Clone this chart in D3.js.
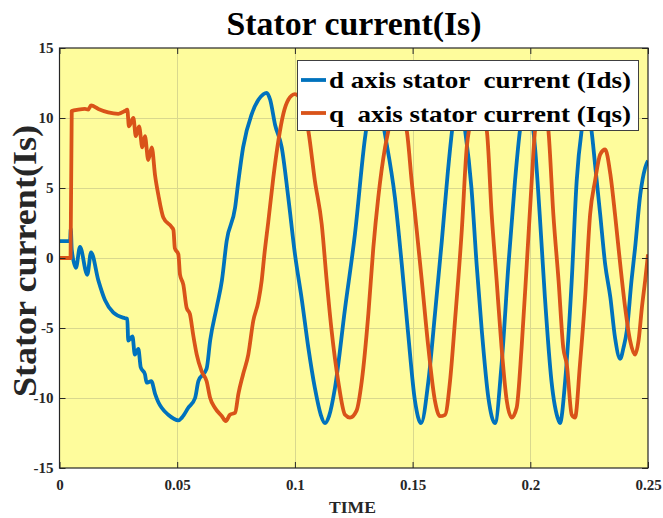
<!DOCTYPE html>
<html><head><meta charset="utf-8">
<script src="https://cdn.jsdelivr.net/npm/d3@7"></script>
<style>
html,body{margin:0;padding:0;background:#fff;}
text{font-family:"Liberation Serif","Times New Roman",serif;font-weight:bold;}
</style></head>
<body>
<svg id="chart" width="663" height="518"></svg>
<script>
const titleText = "Stator current(Is)";
const yLabelText = "Stator current(Is)";
const xLabelText = "TIME";
const seriesNames = ["d axis stator  current (Ids)", "q  axis stator current (Iqs)"];
const xTicks = [0, 0.05, 0.1, 0.15, 0.2, 0.25];
const xTickLabels = ["0", "0.05", "0.1", "0.15", "0.2", "0.25"];
const yTicks = [-15, -10, -5, 0, 5, 10, 15];

const idsT = [0,0.0045,0.0048,0.0052,0.007,0.0087,0.0118,0.0134,0.0165,0.0193,0.0229,0.0278,0.0288,0.0292,0.031,0.032,0.0335,0.0345,0.0363,0.037,0.039,0.0406,0.042,0.0434,0.0462,0.0505,0.052,0.0547,0.0576,0.059,0.0625,0.064,0.0668,0.069,0.071,0.0746,0.076,0.078,0.0817,0.0845,0.0866,0.088,0.0895,0.0916,0.0944,0.0972,0.1,0.103,0.1057,0.1085,0.111,0.1128,0.1145,0.117,0.1213,0.1255,0.1298,0.1318,0.134,0.136,0.1383,0.1425,0.1454,0.148,0.151,0.1536,0.1567,0.1595,0.1624,0.165,0.1673,0.1698,0.1723,0.175,0.1772,0.1794,0.1822,0.185,0.1878,0.1907,0.1935,0.1956,0.1986,0.202,0.204,0.2062,0.209,0.212,0.2126,0.2148,0.2176,0.2197,0.2218,0.224,0.226,0.2275,0.2297,0.2318,0.234,0.236,0.2382,0.2396,0.241,0.243,0.2445,0.2467,0.2488,0.25];
const idsV = [1.2,1.2,2.1,0.6,-0.7,0.8,-1.2,0.4,-1.6,-3.0,-3.9,-4.3,-4.35,-5.9,-5.6,-6.9,-6.5,-7.8,-8.3,-8.9,-8.8,-9.7,-10.3,-10.7,-11.2,-11.6,-11.4,-10.7,-10.0,-8.8,-7.9,-5.9,-3.5,-1.6,1.2,3.6,5.5,7.9,10.3,11.3,11.7,11.8,11.3,9.5,7.9,4.3,0.3,-3.05,-6.4,-9.3,-11.2,-11.8,-11.3,-9.3,-3.6,1.7,8.6,10.8,11.6,10.9,8.8,4.3,-0.45,-5.2,-10.2,-11.8,-8.8,-4.0,1.2,6.2,9.8,11.5,9.1,5.0,-0.45,-5.2,-10.0,-11.8,-7.6,-0.5,5.5,9.1,11.5,7.9,3.1,-2.8,-8.8,-11.6,-11.8,-8.8,-1.6,5.5,9.1,10.8,9.1,6.7,3.1,-0.45,-2.8,-5.7,-7.2,-6.4,-5.2,-1.6,0.7,4.5,6.45,6.95];

const iqsT = [0,0.0047,0.0052,0.008,0.0108,0.0122,0.0134,0.0165,0.0207,0.025,0.0278,0.0288,0.0295,0.0314,0.0324,0.0338,0.0352,0.0363,0.0377,0.0392,0.0406,0.042,0.0441,0.0477,0.0484,0.049,0.0505,0.0512,0.0526,0.054,0.0554,0.0568,0.0583,0.0604,0.0625,0.064,0.066,0.069,0.0706,0.0724,0.0746,0.076,0.078,0.0802,0.0823,0.0845,0.0859,0.087,0.0887,0.0908,0.093,0.0951,0.0972,0.1,0.1025,0.1057,0.1085,0.1114,0.1135,0.1156,0.1184,0.1213,0.1234,0.1262,0.1284,0.1312,0.1333,0.1354,0.1383,0.1397,0.1422,0.1475,0.1496,0.1518,0.1539,0.1567,0.1595,0.1616,0.1638,0.1659,0.168,0.1709,0.173,0.1744,0.1765,0.1815,0.1836,0.1857,0.1878,0.19,0.1921,0.1942,0.1963,0.1985,0.2006,0.202,0.205,0.2077,0.2098,0.212,0.214,0.2155,0.2176,0.219,0.2211,0.2233,0.2254,0.2275,0.2297,0.2318,0.234,0.236,0.2382,0.2403,0.2424,0.2445,0.246,0.2474,0.2488,0.25];
const iqsV = [0,0,10.5,10.6,10.65,10.6,10.9,10.65,10.4,10.3,10.5,10.6,9.4,10.0,8.7,9.4,7.9,8.7,7.0,7.9,5.9,4.5,2.9,2.2,2.0,0.7,0.26,-1.2,-1.9,-3.55,-4.0,-5.5,-6.9,-8.1,-8.8,-10.0,-10.7,-11.3,-11.65,-11.2,-11.05,-9.7,-8.3,-6.9,-4.5,-3.1,-1.6,0.2,2.6,5.7,8.4,10.3,11.3,11.7,11.3,9.1,5.5,2.4,-1.6,-5.2,-8.8,-11.2,-11.4,-10.9,-8.8,-4.0,0.7,4.3,7.9,9.1,11.5,9.1,5.5,1.9,-1.6,-6.4,-10.2,-11.3,-11.2,-8.8,-4.5,2.0,7.9,9.6,11.5,9.1,3.1,-1.6,-6.4,-10.2,-11.4,-10.7,-6.4,-0.45,5.5,9.1,11.5,9.1,3.1,-1.6,-6.4,-7.6,-11.2,-11.4,-7.6,-2.8,3.1,5.5,7.4,7.75,6.0,3.1,-0.45,-3.55,-5.9,-6.9,-5.9,-3.55,-1.6,0.26];

const seriesColors = ["#0072BD", "#D95319"];

const svg = d3.select("#chart");
const W = 663, H = 518;
const m = {left: 59.5, right: 663 - 648, top: 48, bottom: 518 - 468};
const x = d3.scaleLinear().domain([0, 0.25]).range([m.left, W - m.right]);
const y = d3.scaleLinear().domain([-15, 15]).range([H - m.bottom, m.top]);

svg.append("rect").attr("width", W).attr("height", H).attr("fill", "#fff");
svg.append("rect").attr("x", x(0)).attr("y", y(15)).attr("width", x(0.25) - x(0)).attr("height", y(-15) - y(15)).attr("fill", "#fefc9c");

// grid
const grid = svg.append("g").attr("stroke", "#d9d88e").attr("stroke-width", 1);
xTicks.slice(1, -1).forEach(t => grid.append("line").attr("x1", Math.round(x(t)) + 0.5).attr("x2", Math.round(x(t)) + 0.5).attr("y1", y(15)).attr("y2", y(-15)));
yTicks.slice(1, -1).forEach(t => grid.append("line").attr("y1", Math.round(y(t)) + 0.5).attr("y2", Math.round(y(t)) + 0.5).attr("x1", x(0)).attr("x2", x(0.25)));

svg.append("clipPath").attr("id", "clip").append("rect").attr("x", x(0)).attr("y", y(15)).attr("width", x(0.25) - x(0)).attr("height", y(-15) - y(15));

const line = d3.line().x(d => x(d[0])).y(d => y(d[1])).curve(d3.curveMonotoneX);
const series = [d3.zip(idsT, idsV), d3.zip(iqsT, iqsV)];
const plot = svg.append("g").attr("clip-path", "url(#clip)");
series.forEach((s, i) => plot.append("path").datum(s).attr("d", line).attr("fill", "none")
  .attr("stroke", seriesColors[i]).attr("stroke-width", 3.8).attr("stroke-linejoin", "round"));

// axes (ticks inward on all sides)
const tickStyle = g => { g.select(".domain").remove(); g.selectAll("line").attr("stroke", "#262626"); g.selectAll("text").attr("fill", "#262626").attr("font-size", 15).attr("font-family", "Liberation Serif").attr("font-weight", "bold"); };
svg.append("g").attr("transform", `translate(0,${y(-15)})`)
  .call(d3.axisBottom(x).tickValues(xTicks).tickFormat((d, i) => xTickLabels[i]).tickSizeInner(-6).tickSizeOuter(0).tickPadding(11))
  .call(tickStyle);
svg.append("g").attr("transform", `translate(0,${y(15)})`)
  .call(d3.axisTop(x).tickValues(xTicks).tickFormat("").tickSizeInner(-6).tickSizeOuter(0)).call(tickStyle);
svg.append("g").attr("transform", `translate(${x(0)},0)`)
  .call(d3.axisLeft(y).tickValues(yTicks).tickFormat(d => String(d)).tickSizeInner(-6).tickSizeOuter(0).tickPadding(6))
  .call(tickStyle);
svg.append("g").attr("transform", `translate(${x(0.25)},0)`)
  .call(d3.axisRight(y).tickValues(yTicks).tickFormat("").tickSizeInner(-6).tickSizeOuter(0)).call(tickStyle);

svg.append("rect").attr("x", x(0)).attr("y", y(15)).attr("width", x(0.25) - x(0)).attr("height", y(-15) - y(15))
  .attr("fill", "none").attr("stroke", "#262626").attr("stroke-width", 1.2);

// titles
svg.append("text").attr("x", 354).attr("y", 35).attr("text-anchor", "middle").attr("font-size", 33)
  .attr("textLength", 255).attr("lengthAdjust", "spacingAndGlyphs").attr("fill", "#000").text(titleText);
svg.append("text").attr("transform", `translate(36,261) rotate(-90)`).attr("text-anchor", "middle").attr("font-size", 33)
  .attr("textLength", 272).attr("lengthAdjust", "spacingAndGlyphs").attr("fill", "#262626").text(yLabelText);
svg.append("text").attr("x", 352.5).attr("y", 513).attr("text-anchor", "middle").attr("font-size", 17)
  .attr("textLength", 47).attr("lengthAdjust", "spacingAndGlyphs").attr("fill", "#262626").text(xLabelText);

// legend
const lg = svg.append("g");
lg.append("rect").attr("x", 297.5).attr("y", 60.5).attr("width", 341).attr("height", 70).attr("fill", "#fff").attr("stroke", "#404040").attr("stroke-width", 1);
seriesNames.forEach((n, i) => {
  const cy = 80 + i * 33;
  lg.append("line").attr("x1", 301).attr("x2", 326).attr("y1", cy).attr("y2", cy).attr("stroke", seriesColors[i]).attr("stroke-width", 3.8);
  lg.append("text").attr("x", 329).attr("y", 87.5 + i * 34).attr("font-size", 24)
    .attr("textLength", 302).attr("lengthAdjust", "spacingAndGlyphs")
    .attr("fill", "#000").style("white-space", "pre").text(n);
});
</script>
</body></html>
